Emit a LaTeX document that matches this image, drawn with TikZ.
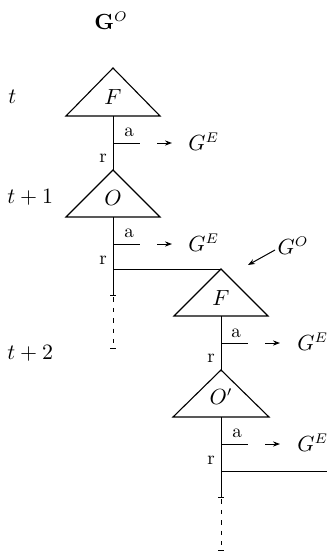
\documentclass[tikz,border=0pt]{standalone}
\usetikzlibrary{arrows.meta}
\begin{document}
\begin{tikzpicture}[x=0.5pt,y=-0.5pt,
  ln/.style={line width=0.5pt},
  tri/.style={line width=0.55pt},
  arr/.style={line width=0.5pt,-{Stealth[length=3.5pt,width=2.6pt]}},
  lab/.style={inner sep=0pt,font=\fontsize{10.5}{12}\selectfont},
  small/.style={inner sep=0pt,font=\fontsize{9.5}{11}\selectfont},
  dashln/.style={line width=0.45pt,dash pattern=on 2.2pt off 3pt},
  endtick/.style={line width=0.4pt}]
\useasboundingbox (0,0) rectangle (327,552);

% title and time labels
\node[lab] (title) at (111,21) {$\mathbf{G}^O$};
\node[lab,anchor=west] (t0) at (8,97) {$t$};
\node[lab,anchor=west] (t1) at (7,197) {$t+1$};
\node[lab,anchor=west] (t2) at (7,353) {$t+2$};

% apex / base coordinates
\coordinate (A1) at (113,68);  \coordinate (B1) at (113,116);
\coordinate (A2) at (113,170); \coordinate (B2) at (113,217);
\coordinate (A3) at (221,269); \coordinate (B3) at (221,316);
\coordinate (A4) at (221,370); \coordinate (B4) at (221,417);

% triangles
\draw[tri] (A1) -- ++(-47,48) -- ++(94,0) -- cycle;
\draw[tri] (A2) -- ++(-47,47) -- ++(94,0) -- cycle;
\draw[tri] (A3) -- ++(-47,47) -- ++(94,0) -- cycle;
\draw[tri] (A4) -- ++(-48,47) -- ++(96,0) -- cycle;
\node[lab] (F1) at (113,97) {$F$};
\node[lab] (O2) at (113,198) {$O$};
\node[lab] (F3) at (221,298) {$F$};
\node[lab] (O4) at (221,397) {$O'$};

% stems between triangles
\draw[ln] (B1) -- (A2);
\draw[ln] (B3) -- (A4);

% action ticks
\coordinate (a1) at (113,143); \draw[ln] (a1) -- ++(27,0);
\coordinate (a2) at (113,244); \draw[ln] (a2) -- ++(27,0);
\coordinate (a3) at (221,343); \draw[ln] (a3) -- ++(27,0);
\coordinate (a4) at (221,444); \draw[ln] (a4) -- ++(27,0);
\node[small] (la1) at (129,132) {a};
\node[small] (la2) at (129,233) {a};
\node[small] (la3) at (236,333) {a};
\node[small] (la4) at (237,433) {a};
\node[small] (lr1) at (103,158) {r};
\node[small] (lr2) at (103,260) {r};
\node[small] (lr3) at (211,358) {r};
\node[small] (lr4) at (211,460) {r};

% arrows to G^E
\node[lab,anchor=west] (ge1) at (188,142) {$G^E$};
\node[lab,anchor=west] (ge2) at (188,243) {$G^E$};
\node[lab,anchor=west] (ge3) at (297,342) {$G^E$};
\node[lab,anchor=west] (ge4) at (297,443) {$G^E$};
\coordinate (s1) at (157,143); \coordinate (e1) at (172,143);
\coordinate (s2) at (157,244); \coordinate (e2) at (172,244);
\coordinate (s3) at (265,343); \coordinate (e3) at (280,343);
\coordinate (s4) at (265,444); \coordinate (e4) at (280,444);
\draw[arr] (s1) -- (e1);
\draw[arr] (s2) -- (e2);
\draw[arr] (s3) -- (e3);
\draw[arr] (s4) -- (e4);

% trunk of O and branch to F
\coordinate (h2) at (113,269);
\coordinate (d2) at (113,295);
\coordinate (e2b) at (113,348);
\draw[ln] (B2) -- (d2);
\draw[ln] (h2) -- (A3);
\draw[endtick] ([xshift=-1.5]d2) -- ([xshift=1.5]d2);
\draw[dashln] ([yshift=4]d2) -- (e2b);
\draw[endtick] ([xshift=-1.5]e2b) -- ([xshift=1.5]e2b);

% trunk of O' and branch to the right
\coordinate (h4) at (221,471);
\coordinate (r4) at (327,471);
\coordinate (d4) at (221,497);
\coordinate (e4b) at (221,550);
\draw[ln] (B4) -- (d4);
\draw[ln] (h4) -- (r4);
\draw[endtick] ([xshift=-1.5]d4) -- ([xshift=1.5]d4);
\draw[dashln] ([yshift=4]d4) -- (e4b);
\draw[endtick] ([xshift=-1.5]e4b) -- ([xshift=1.5]e4b);

% G^O pointer
\node[lab] (go) at (293,246) {$G^O$};
\coordinate (gos) at (275,250); \coordinate (goe) at (248,265);
\draw[arr] (gos) -- (goe);
\end{tikzpicture}
\end{document}
